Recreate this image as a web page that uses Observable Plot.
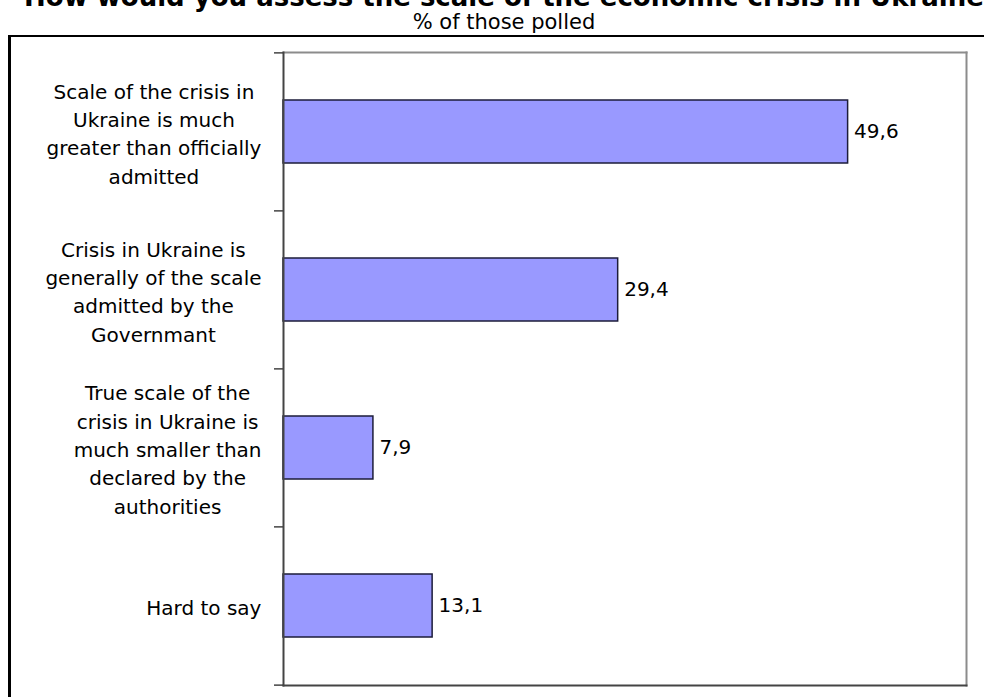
<!DOCTYPE html>
<html>
<head>
<meta charset="utf-8">
<script src="https://cdn.jsdelivr.net/npm/d3@7"></script>
<script src="https://cdn.jsdelivr.net/npm/@observablehq/plot@0.6"></script>
<style>
  html, body { margin: 0; padding: 0; background: #fff; overflow: hidden; }
  body { width: 984px; height: 697px; position: relative; font-family: "DejaVu Sans", Verdana, sans-serif; }
  #title { position: absolute; left: 0; width: 1008px; top: -16px; text-align: center; font-weight: bold; font-size: 26px; line-height: 26px; white-space: nowrap; color: #000; }
  #subtitle { position: absolute; left: 0; width: 1008px; top: 11.5px; text-align: center; font-size: 21px; line-height: 21px; white-space: nowrap; color: #000; }
  #frame { position: absolute; left: 8px; top: 35px; width: 1100px; height: 800px; border-left: 3px solid #000; border-top: 2px solid #000; }
  #chart { position: absolute; left: 0; top: 0; }
</style>
</head>
<body>
<div id="frame"></div>
<div id="title">How would you assess the scale of the economic crisis in Ukraine</div>
<div id="subtitle">% of those polled</div>
<div id="chart"></div>
<script>
const categories = [
  "Scale of the crisis in\nUkraine is much\ngreater than officially\nadmitted",
  "Crisis in Ukraine is\ngenerally of the scale\nadmitted by the\nGovernmant",
  "True scale of the\ncrisis in Ukraine is\nmuch smaller than\ndeclared by the\nauthorities",
  "Hard to say"
];
const values = [49.6, 29.4, 7.9, 13.1];
const xDomain = [0, 60];

const data = categories.map((c, i) => ({category: c, value: values[i]}));
const fmt = v => v.toFixed(1).replace(".", ",");

const W = 984, H = 697;
const mt = 52, mb = 12, ml = 283, mr = 18;
const step = (H - mt - mb) / categories.length;

const svg = Plot.plot({
  width: W,
  height: H,
  marginTop: mt,
  marginBottom: mb,
  marginLeft: ml,
  marginRight: mr,
  style: {fontFamily: "DejaVu Sans", fontSize: "20px", background: "transparent", overflow: "visible"},
  x: {domain: xDomain, axis: null},
  y: {domain: categories, paddingInner: 0.6, paddingOuter: 0.3, axis: null},
  marks: [
    Plot.frame({anchor: "top", stroke: "#8c8c8c", strokeWidth: 2}),
    Plot.frame({anchor: "right", stroke: "#8c8c8c", strokeWidth: 2}),
    Plot.barX(data, {x: "value", y: "category", fill: "#9999ff", stroke: "#1c1c3a", strokeWidth: 1.5}),
    Plot.frame({anchor: "left", stroke: "#444", strokeWidth: 2}),
    Plot.frame({anchor: "bottom", stroke: "#444", strokeWidth: 2}),
    Plot.axisY({tickSize: 9, dy: -step / 2, fill: "none", stroke: "#444", strokeWidth: 1.5, label: null}),
    Plot.axisY({ticks: [categories[categories.length - 1]], tickSize: 9, dy: step / 2, fill: "none", stroke: "#444", strokeWidth: 1.5, label: null}),
    Plot.axisY({tickSize: 0, tickPadding: 22, textAnchor: "middle", fontSize: 20, lineHeight: 1.415, fill: "#000", label: null}),
    Plot.text(data, {x: "value", y: "category", text: d => fmt(d.value), textAnchor: "start", dx: 6, fontSize: 20, fill: "#000"})
  ]
});
document.getElementById("chart").append(svg);

// Right-align each wrapped label block against the axis, keeping its lines centred
svg.querySelectorAll('g[aria-label="y-axis tick label"] text').forEach(t => {
  const w = t.getBBox().width;
  t.setAttribute("transform", (t.getAttribute("transform") || "") + ` translate(${-w / 2},0)`);
});
</script>
</body>
</html>
